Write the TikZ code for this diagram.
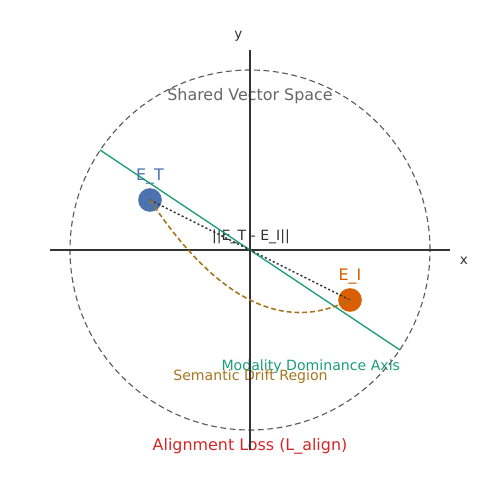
\documentclass[tikz,border=0pt]{standalone}
\usepackage{fontspec}
\setmainfont{DejaVu Sans}
\definecolor{cblue}{HTML}{4C72B0}
\definecolor{corange}{HTML}{D95F02}
\definecolor{cgreen}{HTML}{1B9E77}
\definecolor{cgold}{HTML}{A6761D}
\definecolor{cgray}{HTML}{666666}
\definecolor{cred}{HTML}{D62728}
\definecolor{caxis}{HTML}{333333}
\definecolor{cring}{HTML}{5A5A5A}
\tikzset{
  bigtxt/.style={font=\fontsize{11.5}{13}\selectfont, inner sep=0pt, anchor=base},
  smalltxt/.style={font=\fontsize{10.2}{12}\selectfont, inner sep=0pt, anchor=base},
  axislbl/.style={font=\fontsize{9.8}{12}\selectfont, inner sep=0pt, anchor=base, text=caxis},
  axisline/.style={draw=caxis, line width=1.1pt},
  ring/.style={draw=cring, line width=0.8pt, dash pattern=on 4.2pt off 2.6pt},
  modline/.style={draw=cgreen, line width=1.0pt},
  embed/.style={circle, inner sep=0pt, minimum size=0.6cm},
  diffline/.style={draw=caxis, line width=1.0pt, dash pattern=on 1.5pt off 1.7pt},
  driftline/.style={draw=cgold, line width=1.15pt, dash pattern=on 3.6pt off 2.1pt},
}
\begin{document}
\begin{tikzpicture}[x=2.54cm,y=2.54cm]
\useasboundingbox (-2.5,-2.5) rectangle (2.5,2.5);
\fill[white] (-2.5,-2.5) rectangle (2.5,2.5);
% texts
\node[bigtxt, text=cgray] (title) at (0,1.50) {Shared Vector Space};
\node[bigtxt, text=cred] (loss) at (0,-2.0) {Alignment Loss (L\_align)};
\node[smalltxt, text=cgreen] (modlbl) at (0.608,-1.207) {Modality Dominance Axis};
\node[smalltxt, text=cgold] (driftlbl) at (0.005,-1.30) {Semantic Drift Region};
\node[smalltxt, text=caxis] (difflbl) at (0.01,0.10) {||E\_T - E\_I||};
\node[bigtxt, text=cblue] (etlbl) at (-1.0,0.693) {E\_T};
\node[bigtxt, text=corange] (eilbl) at (1.0,-0.30) {E\_I};
\node[axislbl] (xlbl) at (2.14,-0.147) {x};
\node[axislbl] (ylbl) at (-0.117,2.115) {y};
% shared space ring
\node[circle, minimum size=9.144cm, inner sep=0pt, ring] (space) at (0,0) {};
% axes
\coordinate (xl) at (-2,0);
\coordinate (xr) at (2,0);
\coordinate (yb) at (0,-2);
\coordinate (yt) at (0,2);
\draw[axisline] (xl) -- (xr);
\draw[axisline] (yb) -- (yt);
% modality dominance axis
\coordinate (ma) at (-1.5,1);
\coordinate (mb) at (1.5,-1);
\draw[modline] (ma) -- (mb);
% embeddings
\node[embed, fill=cblue] (ET) at (-1,0.5) {};
\node[embed, fill=corange] (EI) at (1,-0.5) {};
% connectors
\draw[diffline] (ET.center) -- (EI.center);
\draw[driftline] (ET.center) .. controls (-0.3333,-0.5) and (0.3333,-0.8333) .. (EI.center);
\end{tikzpicture}
\end{document}
